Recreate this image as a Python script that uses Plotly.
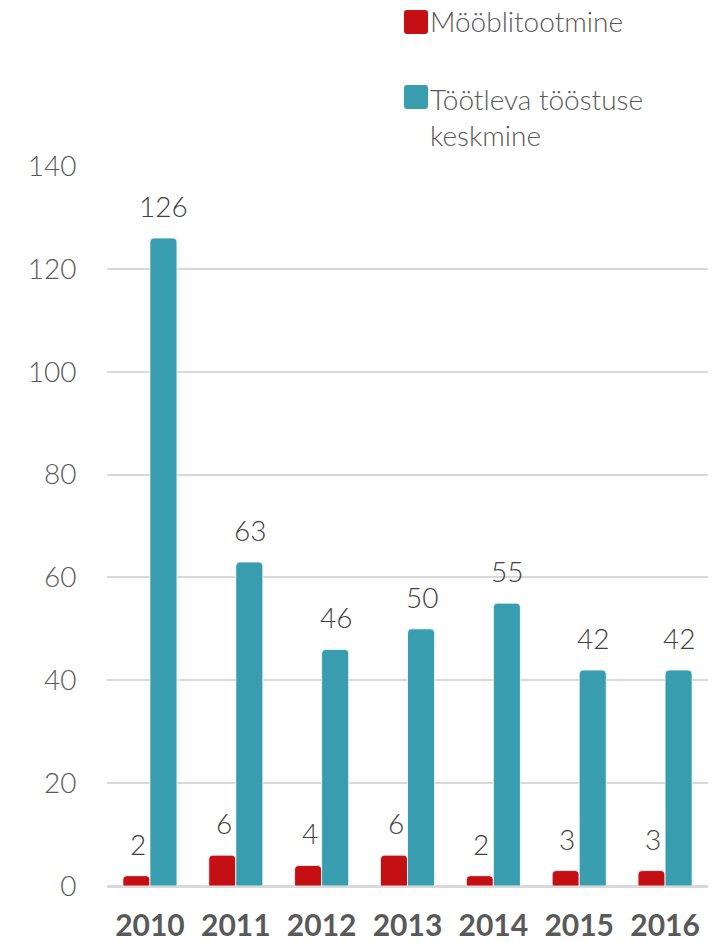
import plotly.graph_objects as go

years = ["2010", "2011", "2012", "2013", "2014", "2015", "2016"]
moobel = [2, 6, 4, 6, 2, 3, 3]
keskmine = [126, 63, 46, 50, 55, 42, 42]
name_moobel = "Mööblitootmine"
name_kesk = "Töötleva tööstuse<br>keskmine"
yticks = [0, 20, 40, 60, 80, 100, 120, 140]

RED = "#C41014"
TEAL = "#389DAF"
FONT = "Lato"
GREY = "#595959"
LABEL = "#404040"

W, H = 720, 942
ML, MR, MT, MB = 107, 12, 166, 56
PW, PH = W - ML - MR, H - MT - MB

xpos = list(range(len(years)))


def px(x):
    return (x - ML) / PW


def py(y):
    return (H - MB - y) / PH


fig = go.Figure()
fig.add_trace(go.Bar(
    x=xpos, y=moobel, name=name_moobel,
    marker=dict(color=RED, line=dict(color="white", width=0.8), cornerradius=4),
))
fig.add_trace(go.Bar(
    x=xpos, y=keskmine, name=name_kesk,
    marker=dict(color=TEAL, line=dict(color="white", width=0.8), cornerradius=4),
))

LBL = dict(size=28, color=LABEL, family=FONT, weight=300)
annotations = []
for i in xpos:
    annotations.append(dict(x=i, y=moobel[i], xref="x", yref="y", text=str(moobel[i]),
                            showarrow=False, xshift=-12, yanchor="bottom", yshift=13,
                            font=LBL))
    annotations.append(dict(x=i, y=keskmine[i], xref="x", yref="y", text=str(keskmine[i]),
                            showarrow=False, xshift=14, yanchor="bottom", yshift=13,
                            font=LBL))


# manual legend (rounded squares + text)
def rounded_rect(x0, y0, x1, y1, r=3):
    X0, X1 = px(x0), px(x1)
    Y0, Y1 = py(y0), py(y1)
    rx, ry = r / PW, r / PH
    return (f"M {X0+rx:.5f} {Y0:.5f} L {X1-rx:.5f} {Y0:.5f} Q {X1:.5f} {Y0:.5f} {X1:.5f} {Y0-ry:.5f} "
            f"L {X1:.5f} {Y1+ry:.5f} Q {X1:.5f} {Y1:.5f} {X1-rx:.5f} {Y1:.5f} L {X0+rx:.5f} {Y1:.5f} "
            f"Q {X0:.5f} {Y1:.5f} {X0:.5f} {Y1+ry:.5f} L {X0:.5f} {Y0-ry:.5f} Q {X0:.5f} {Y0:.5f} {X0+rx:.5f} {Y0:.5f} Z")


shapes = [
    dict(type="path", xref="paper", yref="paper", path=rounded_rect(404, 10, 428, 34),
         fillcolor=RED, line=dict(width=0)),
    dict(type="path", xref="paper", yref="paper", path=rounded_rect(404, 85, 428, 109),
         fillcolor=TEAL, line=dict(width=0)),
]
LEG = dict(size=28, color=GREY, family=FONT, weight=300)
annotations.append(dict(x=px(428), y=py(21), xref="paper", yref="paper", text=name_moobel,
                        showarrow=False, xanchor="left", yanchor="middle", align="left",
                        font=LEG))
annotations.append(dict(x=px(428), y=py(80), xref="paper", yref="paper", text=name_kesk,
                        showarrow=False, xanchor="left", yanchor="top", align="left",
                        font=LEG))

fig.update_layout(
    width=W, height=H,
    margin=dict(l=ML, r=MR, t=MT, b=MB),
    paper_bgcolor="white", plot_bgcolor="white",
    barmode="group", bargap=0.37, bargroupgap=0,
    font=dict(family=FONT, color=GREY),
    showlegend=False,
    annotations=annotations,
    shapes=shapes,
    xaxis=dict(
        type="linear", range=[-0.5, len(years) - 0.5],
        tickmode="array", tickvals=xpos, ticktext=[f"<b>{y}</b>" for y in years],
        tickfont=dict(size=30, color=GREY, family=FONT), tickangle=0,
        showgrid=False, zeroline=False, ticks="outside", ticklen=13, tickcolor="rgba(0,0,0,0)",
        showline=False, automargin=False,
    ),
    yaxis=dict(
        range=[0, 140], tickmode="array", tickvals=yticks, ticktext=[str(v) for v in yticks],
        tickfont=dict(size=28, color=GREY, family=FONT, weight=300),
        showgrid=True, gridcolor="#D9D9D9", gridwidth=1.5,
        zeroline=True, zerolinecolor="#D9D9D9", zerolinewidth=2.5,
        ticks="outside", ticklen=24, tickcolor="rgba(0,0,0,0)", automargin=False,
    ),
)

fig.write_html("out.html", config={"displayModeBar": False},
               post_script="document.body.style.margin='0';")
